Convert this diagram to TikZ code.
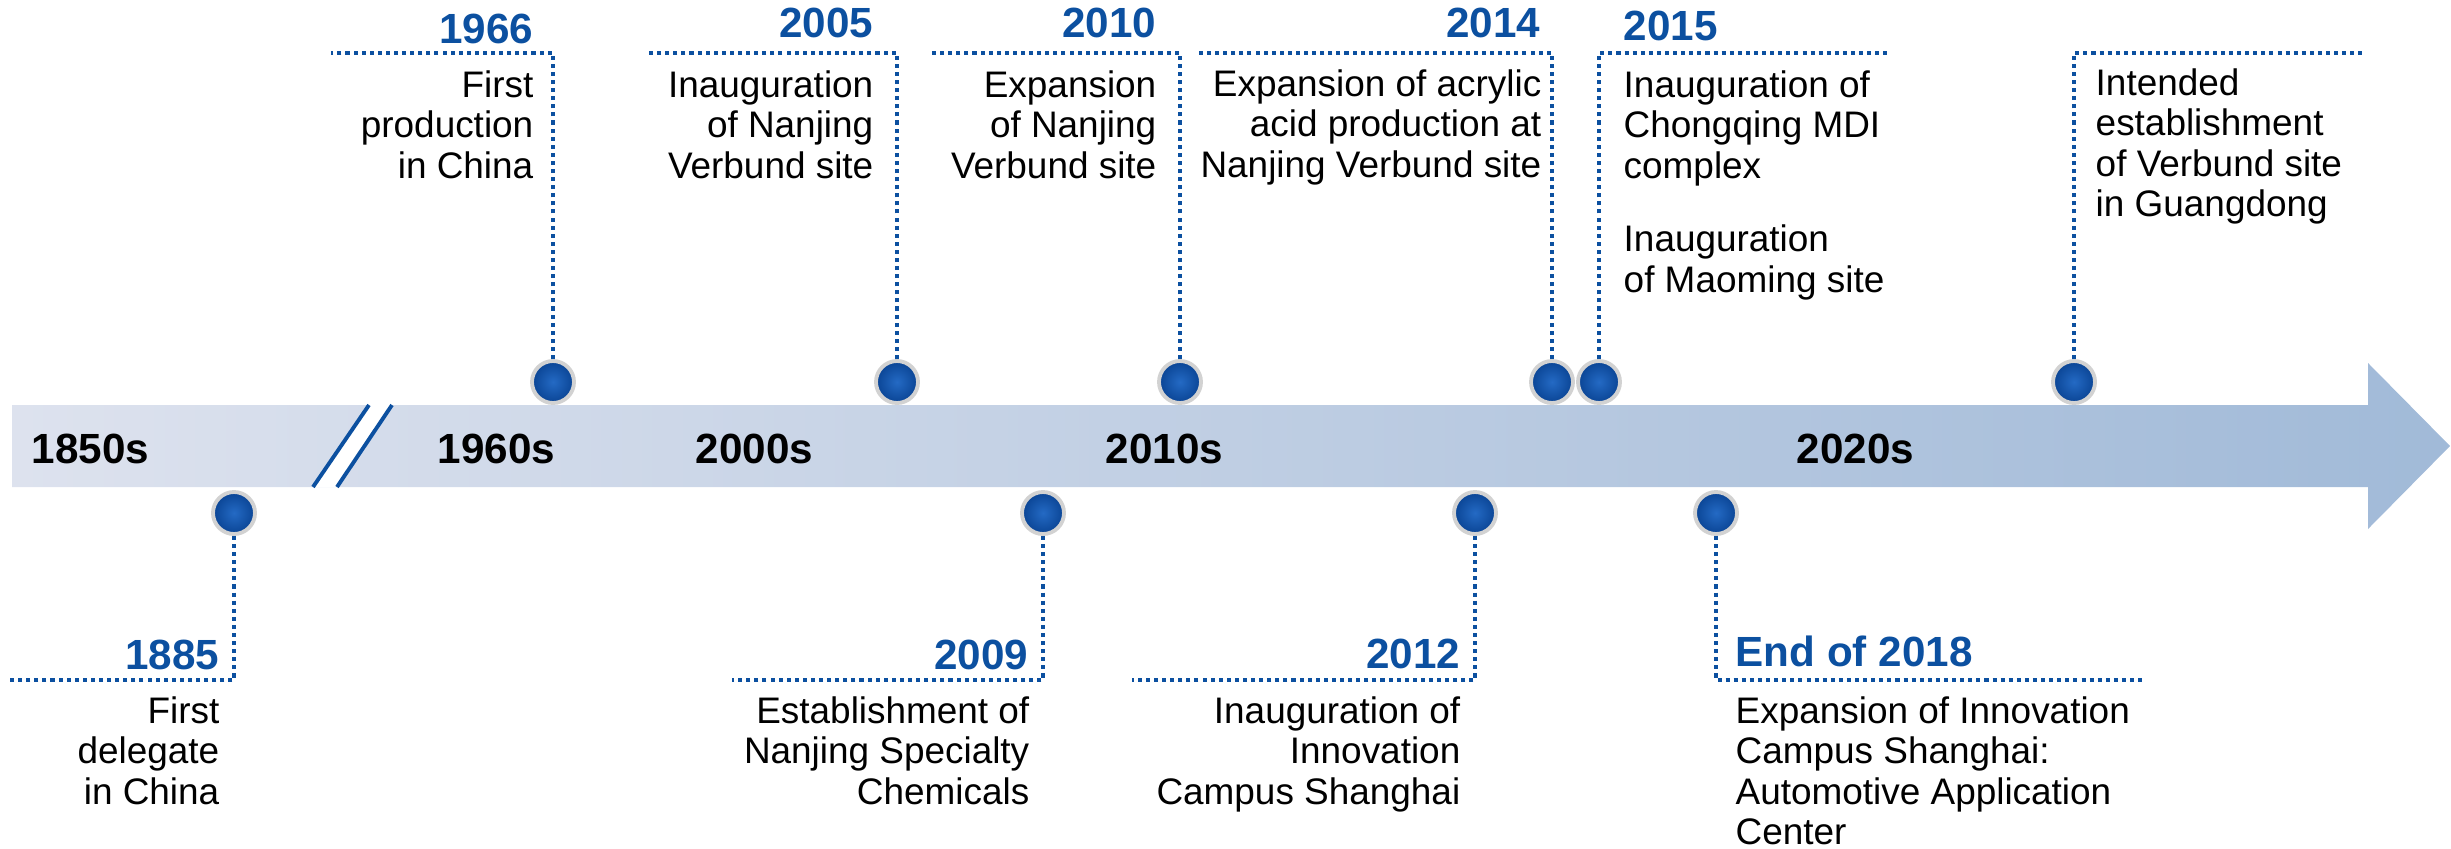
\documentclass[tikz,border=0pt]{standalone}
\usepackage{fontspec}
\setmainfont{Liberation Sans}
\definecolor{basfblue}{RGB}{12,80,160}
\definecolor{bandleft}{RGB}{221,226,238}
\definecolor{bandright}{RGB}{161,186,216}
\definecolor{dotin}{RGB}{36,106,196}
\definecolor{dotout}{RGB}{10,68,148}

\begin{document}
\begin{tikzpicture}[x=0.01cm, y=-0.01cm,
    dotline/.style={basfblue, line width=1.15pt, dash pattern=on 1.15pt off 1.15pt},
    milestone/.style={circle, inner sep=0pt, minimum size=0.42cm, draw=gray!35, line width=1.1pt, shade, inner color=dotin, outer color=dotout},
    year/.style={inner sep=0pt, text=basfblue, font=\fontsize{12}{14}\selectfont\bfseries},
    decade/.style={inner sep=0pt, font=\fontsize{12}{14}\selectfont\bfseries},
    event/.style={inner sep=0pt, font=\fontsize{10.5}{11.5}\selectfont}]
    \useasboundingbox (0,0) rectangle (2451,848);

    \shade[left color=bandleft, right color=bandright] (12,405) -- (2368,405) -- (2368,363) -- (2450,446) -- (2368,529) -- (2368,487) -- (12,487) -- cycle;
    \fill[white] (313,487) -- (369,405) -- (392,405) -- (337,487) -- cycle;
    \draw[basfblue, line width=1.1pt] (313,487) -- (369,405) (337,487) -- (392,405);

    \node[decade, anchor=base west] (d1850) at (31,463) {1850s};
    \node[decade, anchor=base west] (d1960) at (437,463) {1960s};
    \node[decade, anchor=base west] (d2000) at (695,463) {2000s};
    \node[decade, anchor=base west] (d2010) at (1105,463) {2010s};
    \node[decade, anchor=base west] (d2020) at (1796,463) {2020s};

    \node[milestone] (m1966) at (553,382) {};
    \coordinate (k1966) at (553,53);
    \coordinate (e1966) at (331,53);
    \draw[dotline] (m1966) -- (k1966) -- (e1966);
    \node[year, anchor=base east] (y1966) at (534,43) {1966};
    \node[event, anchor=north east, align=right] (t1966) at (534,70) {First\\production\\in China};

    \node[milestone] (m2005) at (897,382) {};
    \coordinate (k2005) at (897,53);
    \coordinate (e2005) at (645,53);
    \draw[dotline] (m2005) -- (k2005) -- (e2005);
    \node[year, anchor=base east] (y2005) at (874,37) {2005};
    \node[event, anchor=north east, align=right] (t2005) at (874,70) {Inauguration\\of Nanjing\\Verbund site};

    \node[milestone] (m2010) at (1180,382) {};
    \coordinate (k2010) at (1180,53);
    \coordinate (e2010) at (929,53);
    \draw[dotline] (m2010) -- (k2010) -- (e2010);
    \node[year, anchor=base east] (y2010) at (1157,37) {2010};
    \node[event, anchor=north east, align=right] (t2010) at (1157,70) {Expansion\\of Nanjing\\Verbund site};

    \node[milestone] (m2014) at (1552,382) {};
    \coordinate (k2014) at (1552,53);
    \coordinate (e2014) at (1199,53);
    \draw[dotline] (m2014) -- (k2014) -- (e2014);
    \node[year, anchor=base east] (y2014) at (1541,37) {2014};
    \node[event, anchor=north east, align=right] (t2014) at (1542,69) {Expansion of acrylic\\acid production at\\Nanjing Verbund site};

    \node[milestone] (m2015) at (1599,382) {};
    \coordinate (k2015) at (1599,53);
    \coordinate (e2015) at (1888,53);
    \draw[dotline] (m2015) -- (k2015) -- (e2015);
    \node[year, anchor=base west] (y2015) at (1623,40) {2015};
    \node[event, anchor=north west, align=left] (t2015) at (1623,70) {Inauguration of\\Chongqing MDI\\complex\\[0.33cm]Inauguration\\of Maoming site};

    \node[milestone] (mvbd) at (2074,382) {};
    \coordinate (kvbd) at (2074,53);
    \coordinate (evbd) at (2366,53);
    \draw[dotline] (mvbd) -- (kvbd) -- (evbd);
    \node[event, anchor=north west, align=left] (tvbd) at (2095,68) {Intended\\establishment\\of Verbund site\\in Guangdong};

    \node[milestone] (m1885) at (234,513) {};
    \coordinate (k1885) at (234,680);
    \coordinate (e1885) at (9,680);
    \draw[dotline] (m1885) -- (k1885) -- (e1885);
    \node[year, anchor=base east] (y1885) at (220,669) {1885};
    \node[event, anchor=north east, align=right] (t1885) at (220,696) {First\\delegate\\in China};

    \node[milestone] (m2009) at (1043,513) {};
    \coordinate (k2009) at (1043,680);
    \coordinate (e2009) at (732,680);
    \draw[dotline] (m2009) -- (k2009) -- (e2009);
    \node[year, anchor=base east] (y2009) at (1029,669) {2009};
    \node[event, anchor=north east, align=right] (t2009) at (1030,696) {Establishment of\\Nanjing Specialty\\Chemicals};

    \node[milestone] (m2012) at (1475,513) {};
    \coordinate (k2012) at (1475,680);
    \coordinate (e2012) at (1132,680);
    \draw[dotline] (m2012) -- (k2012) -- (e2012);
    \node[year, anchor=base east] (y2012) at (1461,668) {2012};
    \node[event, anchor=north east, align=right] (t2012) at (1461,696) {Inauguration of\\Innovation\\Campus Shanghai};

    \node[milestone] (m2018) at (1716,513) {};
    \coordinate (k2018) at (1716,680);
    \coordinate (e2018) at (2145,680);
    \draw[dotline] (m2018) -- (k2018) -- (e2018);
    \node[year, anchor=base west] (y2018) at (1735,666) {End of 2018};
    \node[event, anchor=north west, align=left] (t2018) at (1735,696) {Expansion of Innovation\\Campus Shanghai:\\Automotive Application\\Center};
  \end{tikzpicture}
\end{document}
